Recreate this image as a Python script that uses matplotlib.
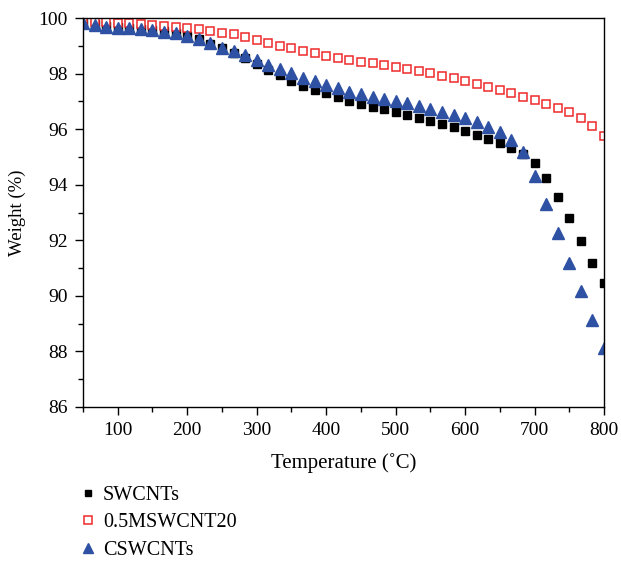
#!/usr/bin/env python3
import matplotlib
matplotlib.use("Agg")
import matplotlib.pyplot as plt
from matplotlib.ticker import MultipleLocator

# temperature grid (°C), one sample every ~16.7 degrees
temperature = [50.0, 66.7, 83.3, 100.0, 116.7, 133.3, 150.0, 166.7, 183.3, 200.0,
               216.7, 233.3, 250.0, 266.7, 283.3, 300.0, 316.7, 333.3, 350.0, 366.7,
               383.3, 400.0, 416.7, 433.3, 450.0, 466.7, 483.3, 500.0, 516.7, 533.3,
               550.0, 566.7, 583.3, 600.0, 616.7, 633.3, 650.0, 666.7, 683.3, 700.0,
               716.7, 733.3, 750.0, 766.7, 783.3, 800.0]

swcnts = [99.83, 99.78, 99.72, 99.68, 99.65, 99.61, 99.58, 99.53, 99.46, 99.37,
          99.24, 99.08, 98.92, 98.76, 98.55, 98.34, 98.12, 97.95, 97.75, 97.57,
          97.42, 97.29, 97.15, 97.03, 96.90, 96.81, 96.71, 96.63, 96.51, 96.41,
          96.31, 96.19, 96.07, 95.95, 95.80, 95.66, 95.49, 95.31, 95.10, 94.77,
          94.23, 93.56, 92.80, 91.99, 91.20, 90.45]

mswcnt = [99.88, 99.87, 99.85, 99.83, 99.81, 99.78, 99.75, 99.72, 99.69, 99.63,
          99.59, 99.53, 99.48, 99.42, 99.32, 99.22, 99.09, 99.00, 98.91, 98.81,
          98.73, 98.64, 98.56, 98.49, 98.43, 98.37, 98.31, 98.25, 98.17, 98.10,
          98.04, 97.92, 97.83, 97.73, 97.63, 97.52, 97.41, 97.29, 97.17, 97.05,
          96.92, 96.77, 96.61, 96.39, 96.12, 95.77]

cswcnts = [99.81, 99.75, 99.69, 99.66, 99.63, 99.60, 99.57, 99.51, 99.45, 99.36,
           99.23, 99.09, 98.94, 98.81, 98.67, 98.50, 98.31, 98.15, 98.01, 97.85,
           97.73, 97.59, 97.47, 97.35, 97.27, 97.17, 97.09, 97.01, 96.93, 96.83,
           96.74, 96.61, 96.51, 96.39, 96.25, 96.09, 95.91, 95.62, 95.17, 94.33,
           93.30, 92.25, 91.20, 90.17, 89.13, 88.11]

plt.rcParams["font.family"] = ["Liberation Serif", "DejaVu Serif"]
plt.rcParams["font.size"] = 14

fig = plt.figure(figsize=(6.21, 5.66), dpi=100)
ax = fig.add_axes([0.1337, 0.281, 0.839, 0.687])

ax.plot(temperature, swcnts, ls="none", marker="s", ms=5.5,
        color="black", label="SWCNTs")
ax.plot(temperature, mswcnt, ls="none", marker="s", ms=6, mfc="white",
        mec="#ee2a2a", mew=1.1, label="0.5MSWCNT20")
ax.plot(temperature, cswcnts, ls="none", marker="^", ms=8.5,
        color="#2e51a3", label="CSWCNTs")

ax.set_xlim(50, 800)
ax.set_ylim(86, 100)
ax.xaxis.set_major_locator(MultipleLocator(100))
ax.xaxis.set_minor_locator(MultipleLocator(50))
ax.yaxis.set_major_locator(MultipleLocator(2))
ax.yaxis.set_minor_locator(MultipleLocator(1))
ax.tick_params(which="both", direction="out", top=False, right=False, width=1)
ax.tick_params(which="major", length=6, labelsize=14, pad=5)
ax.tick_params(which="minor", length=3.5)
for s in ax.spines.values():
    s.set_linewidth(1)

ax.set_xlabel("Temperature (˚C)", fontsize=15, labelpad=10)
ax.set_ylabel("Weight (%)", fontsize=13.5, labelpad=9)

leg = fig.legend(loc="upper left", bbox_to_anchor=(0.117, 0.156), frameon=False,
                 fontsize=14.5, handlelength=0.7, handletextpad=0.4,
                 labelspacing=0.42, borderaxespad=0, markerscale=0.85)

fig.savefig("out.png", dpi=100)
